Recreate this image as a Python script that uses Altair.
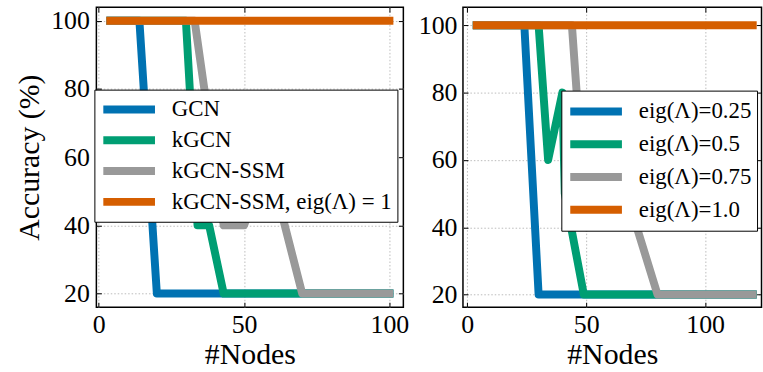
import altair as alt
import pandas as pd

FONT = "Liberation Serif"
COLORS = ["#0072B2", "#009E73", "#999999", "#D55E00"]

# ---- left panel: accuracy of each model vs. graph size ----
left_labels = ["GCN", "kGCN", "kGCN-SSM", "kGCN-SSM, eig(Λ) = 1"]
gcn_nodes = [4, 14, 20, 100]
gcn_acc = [100, 100, 20, 20]
kgcn_nodes = [4, 30, 34, 38, 43, 100]
kgcn_acc = [100, 100, 40, 40, 20, 20]
ssm_nodes = [4, 33, 43, 50, 58, 70, 100]
ssm_acc = [100, 100, 40, 40, 60, 20, 20]
ssm_eig1_nodes = [4, 100]
ssm_eig1_acc = [100, 100]

# ---- right panel: kGCN-SSM with different eigenvalues of Lambda ----
right_labels = ["eig(Λ)=0.25", "eig(Λ)=0.5", "eig(Λ)=0.75", "eig(Λ)=1.0"]
eig025_nodes = [4, 24, 30, 120]
eig025_acc = [100, 100, 20, 20]
eig05_nodes = [4, 30, 34, 40, 41, 49, 120]
eig05_acc = [100, 100, 60, 80, 50, 20, 20]
eig075_nodes = [4, 44, 50, 56, 80, 120]
eig075_acc = [100, 100, 40, 75, 20, 20]
eig1_nodes = [4, 120]
eig1_acc = [100, 100]

y_ticks = [20, 40, 60, 80, 100]
x_ticks = [0, 50, 100]


def to_frame(labels, series):
    rows = []
    for k, (lab, (xs, ys)) in enumerate(zip(labels, series)):
        for j, (x, y) in enumerate(zip(xs, ys)):
            rows.append({"series": lab, "k": k, "pt": j, "nodes": x, "acc": y})
    return pd.DataFrame(rows)


def panel(df, labels, x_domain, y_domain, width, height, y_title,
          leg_x, leg_y, row_h):
    xs = alt.Scale(domain=x_domain, nice=False, zero=False)
    ys = alt.Scale(domain=y_domain, nice=False, zero=False)
    tick_common = dict(tickSize=5, offset=-5, tickColor="black", tickWidth=1,
                       domain=False, labelFont=FONT, labelColor="black",
                       titleFont=FONT, titleColor="black", titleFontWeight="normal")
    grid_style = dict(grid=True, gridColor="#bbbbbb", gridDash=[1.5, 2], gridWidth=1)

    if y_title:
        y_axis = alt.Axis(orient="left", values=y_ticks, labelFontSize=26, labelPadding=7,
                          title=y_title, titleFontSize=30, titlePadding=6,
                          **grid_style, **tick_common)
    else:
        y_axis = alt.Axis(orient="left", values=y_ticks, labelFontSize=26, labelPadding=6,
                          title=None, **grid_style, **tick_common)

    lines = alt.Chart(df).mark_line(
        strokeWidth=8, strokeCap="square", strokeJoin="round", clip=True
    ).encode(
        x=alt.X("nodes:Q", scale=xs,
                axis=alt.Axis(orient="bottom", values=x_ticks, title="#Nodes",
                              labelFontSize=26, labelPadding=4, titleFontSize=30,
                              titlePadding=3, **grid_style, **tick_common)),
        y=alt.Y("acc:Q", scale=ys, axis=y_axis),
        color=alt.Color("series:N", sort=labels,
                        scale=alt.Scale(domain=labels, range=COLORS),
                        legend=alt.Legend(
                            title=None, orient="none", legendX=leg_x, legendY=leg_y,
                            symbolType="stroke", symbolSize=2704, symbolStrokeWidth=8,
                            clipHeight=row_h, rowPadding=1, labelOffset=13,
                            labelFont=FONT, labelFontSize=23, labelColor="black",
                            labelLimit=400, padding=5,
                            strokeColor="black", fillColor="white",
                            cornerRadius=0)),
        order="pt:Q",
    )

    # ticks on the top and right edges of the frame
    frame_ticks = alt.Chart(df).mark_point(opacity=0).encode(
        x=alt.X("nodes:Q", scale=xs,
                axis=alt.Axis(orient="top", values=x_ticks, title=None, grid=False,
                              labels=False, **tick_common)),
        y=alt.Y("acc:Q", scale=ys,
                axis=alt.Axis(orient="right", values=y_ticks, title=None, grid=False,
                              labels=False, **tick_common)),
    )

    return alt.layer(lines, frame_ticks).resolve_axis(
        x="independent", y="independent"
    ).properties(width=width, height=height)


left_df = to_frame(left_labels, [(gcn_nodes, gcn_acc), (kgcn_nodes, kgcn_acc),
                                 (ssm_nodes, ssm_acc), (ssm_eig1_nodes, ssm_eig1_acc)])
right_df = to_frame(right_labels, [(eig025_nodes, eig025_acc), (eig05_nodes, eig05_acc),
                                   (eig075_nodes, eig075_acc), (eig1_nodes, eig1_acc)])

left = panel(left_df, left_labels, [-0.8, 104.8], [16, 104], 309, 302, "Accuracy (%)",
             -2, 83, 30)
right = panel(right_df, right_labels, [-1.8, 123.7], [16.25, 105.4], 300.5, 302, None,
              99, 84, 32)

chart = alt.hconcat(left, right, spacing=7).resolve_scale(color="independent").properties(
    padding={"left": 14, "top": 4, "right": 0, "bottom": 0}
).configure_view(
    stroke="black", strokeWidth=1.5
)

chart.save("out.html", embed_options={"renderer": "svg", "actions": False})
